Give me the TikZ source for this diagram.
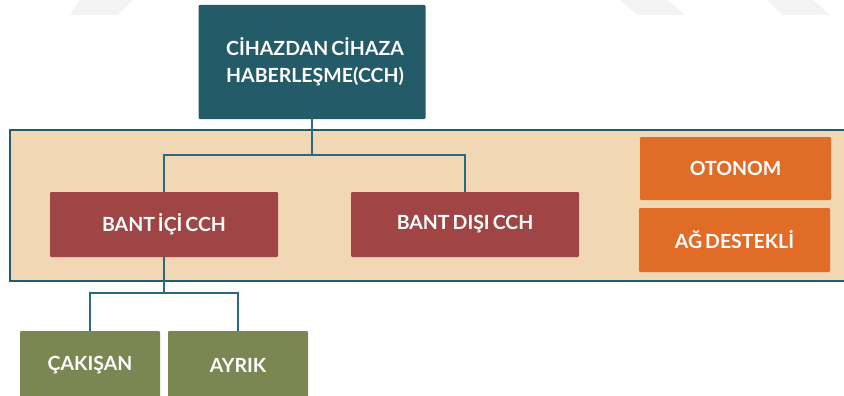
\documentclass[tikz,border=0pt]{standalone}
\usepackage{fontspec}
\setmainfont{Lato}
\usepackage{xcolor}
\usepackage{tikz}
\usetikzlibrary{positioning,calc}

\definecolor{cchteal}{HTML}{235B69}
\definecolor{cchline}{HTML}{2B6A7C}
\definecolor{cchband}{HTML}{F1D7B3}
\definecolor{cchred}{HTML}{A04546}
\definecolor{cchorange}{HTML}{E16C28}
\definecolor{cchgreen}{HTML}{7A8752}
\definecolor{cchmark}{HTML}{F3F3F3}

\newcommand{\boxfont}{\fontsize{19.5}{27}\selectfont\bfseries\spaceskip=3pt\relax}

\begin{document}
\begin{tikzpicture}[x=1pt, y=-1pt,
    box/.style={rectangle, rounded corners=1.2pt, inner sep=0pt, align=center,
        text=white, font=\boxfont},
    conn/.style={draw=cchline, line width=2.2pt}]
    \useasboundingbox (0,0) rectangle (844,396);

    % faint marks along the top edge
    \fill[cchmark] (80,0) -- (133,0) -- (117,15) -- (70,15) -- cycle;
    \fill[cchmark] (620,0) -- (667,0) -- (685,15) -- (637,15) -- cycle;
    \fill[cchmark] (767,0) -- (813,0) -- (830,15) -- (782,15) -- cycle;

    % Band
    \draw[fill=cchband, draw=cchteal, line width=2.6pt] (10,130) rectangle (860,281);

    % Top level
    \node[box, fill=cchteal, minimum width=227pt, minimum height=114pt] (cch) at (312,62)
        {\hspace{6pt}CİHAZDAN CİHAZA\\\hspace{6pt}HABERLEŞME(CCH)};

    % Band types
    \node[box, fill=cchred, minimum width=228pt, minimum height=65pt] (bantici) at (164,224.5) {BANT İÇİ CCH};
    \node[box, fill=cchred, minimum width=228pt, minimum height=65pt] (bantdisi) at (465,224.5) {BANT DIŞI CCH};

    % Modes
    \node[box, fill=cchorange, minimum width=191pt, minimum height=63pt] (otonom) at (735.5,168.5) {OTONOM};
    \node[box, fill=cchorange, minimum width=191pt, minimum height=64pt] (agdestekli) at (734.5,240) {AĞ DESTEKLİ};

    % Sub types
    \node[box, fill=cchgreen, minimum width=140pt, minimum height=69pt] (cakisan) at (90,365.5) {ÇAKIŞAN};
    \node[box, fill=cchgreen, minimum width=140pt, minimum height=69pt] (ayrik) at (238,365.5) {AYRIK};

    % Connectors
    \coordinate (split1) at (cch.south |- 0,155);
    \draw[conn] (cch.south) -- (split1) -| (bantici.north);
    \draw[conn] (split1) -| (bantdisi.north);

    \coordinate (split2) at (bantici.south |- 0,293);
    \draw[conn] (bantici.south) -- (split2) -| (cakisan.north);
    \draw[conn] (split2) -| (ayrik.north);
\end{tikzpicture}
\end{document}
